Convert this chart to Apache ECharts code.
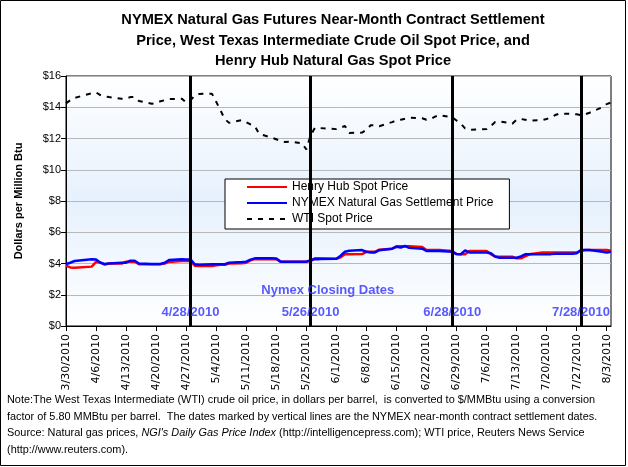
<!DOCTYPE html>
<html>
<head>
<meta charset="utf-8">
<script src="https://cdn.jsdelivr.net/npm/echarts@6/dist/echarts.min.js"></script>
<style>
html,body{margin:0;padding:0;background:#fff;}
#chart{width:628px;height:467px;}
</style>
</head>
<body>
<div id="chart"></div>
<script>
// Trading dates (2010)
const tradeDates = [
 '3/30/2010','3/31/2010','4/1/2010',
 '4/5/2010','4/6/2010','4/7/2010','4/8/2010','4/9/2010',
 '4/12/2010','4/13/2010','4/14/2010','4/15/2010','4/16/2010',
 '4/19/2010','4/20/2010','4/21/2010','4/22/2010','4/23/2010',
 '4/26/2010','4/27/2010','4/28/2010','4/29/2010','4/30/2010',
 '5/3/2010','5/4/2010','5/5/2010','5/6/2010','5/7/2010',
 '5/10/2010','5/11/2010','5/12/2010','5/13/2010','5/14/2010',
 '5/17/2010','5/18/2010','5/19/2010','5/20/2010','5/21/2010',
 '5/24/2010','5/25/2010','5/26/2010','5/27/2010','5/28/2010',
 '6/1/2010','6/2/2010','6/3/2010','6/4/2010',
 '6/7/2010','6/8/2010','6/9/2010','6/10/2010','6/11/2010',
 '6/14/2010','6/15/2010','6/16/2010','6/17/2010','6/18/2010',
 '6/21/2010','6/22/2010','6/23/2010','6/24/2010','6/25/2010',
 '6/28/2010','6/29/2010','6/30/2010','7/1/2010','7/2/2010',
 '7/6/2010','7/7/2010','7/8/2010','7/9/2010',
 '7/12/2010','7/13/2010','7/14/2010','7/15/2010','7/16/2010',
 '7/19/2010','7/20/2010','7/21/2010','7/22/2010','7/23/2010',
 '7/26/2010','7/27/2010','7/28/2010','7/29/2010','7/30/2010',
 '8/2/2010','8/3/2010','8/4/2010'
];
const wti = [
 14.25,14.45,14.6,
 14.9,14.95,14.78,14.7,14.65,
 14.55,14.55,14.65,14.65,14.4,
 14.22,14.28,14.38,14.45,14.52,
 14.55,14.3,14.45,14.75,14.85,
 14.87,14.35,13.8,13.25,13.0,
 13.18,13.05,12.9,12.8,12.3,
 12.05,11.95,11.85,11.78,11.8,
 11.7,11.3,12.2,12.68,12.67,
 12.6,12.7,12.8,12.35,
 12.38,12.55,12.85,12.85,12.78,
 13.05,13.15,13.2,13.27,13.33,
 13.3,13.2,13.25,13.4,13.5,
 13.35,13.15,12.95,12.65,12.55,
 12.6,12.8,13.05,13.1,
 12.95,13.2,13.25,13.2,13.14,
 13.18,13.25,13.35,13.5,13.6,
 13.57,13.55,13.5,13.55,13.65,
 14.0,14.2,14.3
];
const henryHub = [
 3.86,3.75,3.73,
 3.8,4.1,4.08,3.93,4.0,
 4.0,4.12,4.12,4.12,3.96,
 3.96,3.96,3.96,4.0,4.1,
 4.16,4.16,4.16,3.86,3.84,
 3.84,3.88,3.92,3.92,4.0,
 4.02,4.05,4.2,4.28,4.28,
 4.28,4.28,4.12,4.12,4.12,
 4.12,4.12,4.15,4.33,4.33,
 4.3,4.4,4.59,4.59,
 4.6,4.75,4.75,4.75,4.88,
 4.95,5.1,5.1,5.1,5.1,
 5.05,4.86,4.86,4.86,4.86,
 4.8,4.6,4.59,4.59,4.8,
 4.8,4.6,4.43,4.43,
 4.43,4.33,4.33,4.45,4.59,
 4.71,4.71,4.71,4.71,4.71,
 4.71,4.71,4.8,4.86,4.86,
 4.86,4.86,4.82
];
const nymex = [
 3.97,4.05,4.16,
 4.27,4.25,4.05,3.97,4.0,
 4.05,4.05,4.18,4.18,4.0,
 3.97,3.97,3.97,4.05,4.22,
 4.27,4.26,4.26,3.95,3.92,
 3.95,3.96,3.96,3.96,4.05,
 4.1,4.12,4.25,4.33,4.33,
 4.33,4.32,4.12,4.12,4.12,
 4.12,4.12,4.22,4.28,4.28,
 4.3,4.5,4.75,4.82,
 4.86,4.75,4.71,4.71,4.85,
 4.95,5.07,5.02,5.12,5.0,
 4.95,4.8,4.8,4.8,4.8,
 4.75,4.6,4.59,4.84,4.71,
 4.71,4.65,4.45,4.37,
 4.37,4.37,4.45,4.59,4.59,
 4.59,4.6,4.6,4.62,4.62,
 4.62,4.65,4.86,4.86,4.86,
 4.75,4.7,4.75
];
const closingDates = ['4/28/2010','5/26/2010','6/28/2010','7/28/2010'];
const yTicks = [0,2,4,6,8,10,12,14,16];

// calendar-day categories for the x axis
const categories = [];
(function(){
  const d = new Date(2010, 2, 30);
  for (let i = 0; i < 128; i++) {
    categories.push((d.getMonth()+1) + '/' + d.getDate() + '/' + d.getFullYear());
    d.setDate(d.getDate()+1);
  }
})();

const pair = arr => tradeDates.map((t,i) => [t, arr[i]]);
const FONT = 'Liberation Sans, Arial, sans-serif';
const BLUE_TXT = '#2f2fff';

const chart = echarts.init(document.getElementById('chart'), null, {renderer:'canvas'});
chart.setOption({
  animation: false,
  backgroundColor: '#fff',
  textStyle: {fontFamily: FONT},
  title: {
    text: 'NYMEX Natural Gas Futures Near-Month Contract Settlement\nPrice, West Texas Intermediate Crude Oil Spot Price, and\nHenry Hub Natural Gas Spot Price',
    left: 328, top: 5, textAlign: 'center',
    textStyle: {fontFamily: FONT, fontSize: 14.6, fontWeight: 'bold', color: '#000', lineHeight: 20.5}
  },
  grid: {
    left: 66, right: 17, top: 76, bottom: 141,
    show: true, borderColor: '#000', borderWidth: 1,
    backgroundColor: new echarts.graphic.LinearGradient(0,0,0,1,[
      {offset:0, color:'#ffffff'},{offset:0.5, color:'#e6f1fd'},{offset:1, color:'#ffffff'}
    ])
  },
  legend: {
    orient: 'vertical', left: 225, top: 179,
    backgroundColor: '#fff', borderColor: '#000', borderWidth: 1,
    padding: [2, 16, 4, 21], itemGap: 4, itemWidth: 40, itemHeight: 13,
    itemStyle: {opacity: 0},
    textStyle: {fontFamily: FONT, fontSize: 12, color: '#000'},
    data: ['Henry Hub Spot Price', 'NYMEX Natural Gas Settlement Price', 'WTI Spot Price']
  },
  xAxis: {
    type: 'category', boundaryGap: false, data: categories,
    axisLine: {lineStyle: {color: '#000', width: 1}},
    axisTick: {show: true, interval: i => i % 7 === 0, length: 5, lineStyle: {color:'#000'}},
    axisLabel: {interval: i => i % 7 === 0, rotate: 90, fontSize: 11, color: '#000', margin: 8, fontFamily: 'DejaVu Sans, sans-serif'},
    splitLine: {show: false}
  },
  yAxis: {
    type: 'value', min: 0, max: 16, interval: 2,
    name: 'Dollars per Million Btu', nameLocation: 'middle', nameGap: 42,
    nameTextStyle: {fontFamily: FONT, fontSize: 11, fontWeight: 'bold', color: '#000'},
    axisLine: {show: true, lineStyle: {color: '#000'}},
    axisTick: {show: true, length: 5, lineStyle: {color: '#000'}},
    axisLabel: {formatter: v => yTicks.indexOf(v) >= 0 ? '$' + v : '', fontSize: 11, color: '#000', margin: 5, fontFamily: FONT},
    splitLine: {show: true, lineStyle: {color: '#b8b8b8', width: 1}}
  },
  series: [
    {
      name: 'WTI Spot Price', type: 'line', data: pair(wti), showSymbol: false, symbol: 'none',
      connectNulls: true,
      lineStyle: {color: '#000', width: 2, type: [5, 6]}, itemStyle: {color: '#000'}, z: 3
    },
    {
      name: 'Henry Hub Spot Price', type: 'line', data: pair(henryHub), showSymbol: false, symbol: 'none',
      lineStyle: {color: '#ff0000', width: 2.5}, itemStyle: {color: '#ff0000'}, z: 3
    },
    {
      name: 'NYMEX Natural Gas Settlement Price', type: 'line', data: pair(nymex), showSymbol: false, symbol: 'none',
      lineStyle: {color: '#0000ff', width: 2.5}, itemStyle: {color: '#0000ff'}, z: 4,
      markLine: {
        silent: true, symbol: ['none','none'], animation: false,
        lineStyle: {color: '#000', width: 3, type: 'solid'},
        label: {show: false},
        data: closingDates.map(d => ({xAxis: d}))
      }
    },
    {
      name: 'labels', type: 'scatter', symbolSize: 0, silent: true, z: 6,
      data: closingDates.map(d => ({value: [d, 0.88], label: {formatter: d}})).concat([
        {value: ['5/30/2010', 2.3], label: {formatter: 'Nymex Closing Dates'}}
      ]),
      label: {show: true, position: 'inside', color: BLUE_TXT, fontSize: 13, fontWeight: 'bold', fontFamily: FONT}
    }
  ],
  graphic: [
    {type: 'rect', shape: {x: 0.5, y: 0.5, width: 625, height: 465}, style: {fill: 'none', stroke: '#000', lineWidth: 1}, silent: true, z: 100},
    {
      type: 'text', left: 7, top: 392, silent: true,
      style: {
        text: 'Note:The West Texas Intermediate (WTI) crude oil price, in dollars per barrel,  is converted to $/MMBtu using a conversion\nfactor of 5.80 MMBtu per barrel.  The dates marked by vertical lines are the NYMEX near-month contract settlement dates.\nSource: Natural gas prices, {i|NGI\'s Daily Gas Price Index} (http://intelligencepress.com); WTI price, Reuters News Service\n(http://www.reuters.com).',
        font: '10.9px ' + FONT, fill: '#000', lineHeight: 16.5,
        rich: {i: {fontStyle: 'italic', fontSize: 10.9, fontFamily: FONT, lineHeight: 16.5}}
      }
    }
  ]
});
</script>
</body>
</html>
